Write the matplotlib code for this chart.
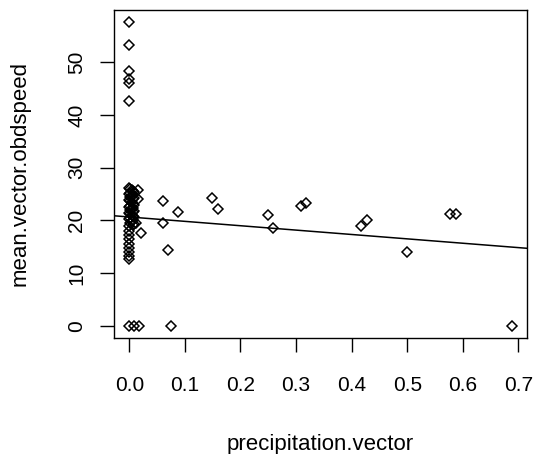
import matplotlib.pyplot as plt

plt.rcParams["font.family"] = ["Liberation Sans", "DejaVu Sans"]

# values (the x = 0 block is densely overplotted)
precipitation = [
    0.000, 0.000, 0.000, 0.000, 0.000, 0.000,
    0.000, 0.004, 0.008, 0.000, 0.004, 0.008, 0.000, 0.004, 0.008,
    0.000, 0.004, 0.008, 0.000, 0.004, 0.008, 0.000, 0.004, 0.008,
    0.002, 0.006, 0.002, 0.006, 0.002, 0.006, 0.002, 0.006, 0.002,
    0.006, 0.002, 0.006, 0.002, 0.006, 0.002, 0.006, 0.002, 0.006,
    0.000, 0.000, 0.000, 0.000, 0.000, 0.000, 0.000, 0.000, 0.000,
    0.015, 0.015, 0.012, 0.021,
    0.000, 0.009, 0.018, 0.075,
    0.060, 0.060, 0.070, 0.088, 0.148, 0.160, 0.249, 0.259,
    0.308, 0.317, 0.416, 0.427, 0.499, 0.577, 0.588, 0.688,
]
obdspeed = [
    57.6, 53.2, 48.4, 46.8, 46.1, 42.6,
    26.2, 25.8, 25.4, 25.0, 24.6, 24.2, 23.8, 23.4, 23.0,
    22.6, 22.2, 21.8, 21.4, 21.0, 20.6, 20.2, 19.8, 19.4,
    26.0, 25.6, 25.2, 24.8, 24.4, 24.0, 23.6, 23.2, 22.8,
    22.4, 22.0, 21.6, 21.2, 20.8, 20.4, 20.0, 19.6, 19.2,
    18.9, 18.0, 17.2, 16.4, 15.6, 14.8, 14.0, 13.3, 12.6,
    25.8, 24.0, 19.6, 17.7,
    0.0, 0.0, 0.0, 0.0,
    23.6, 19.6, 14.4, 21.6, 24.3, 22.2, 21.0, 18.6,
    22.8, 23.3, 18.9, 20.0, 14.1, 21.3, 21.3, 0.0,
]

# fitted line (abline of lm)
fit_intercept = 20.65
fit_slope = -8.3

x_ticks = [0.0, 0.1, 0.2, 0.3, 0.4, 0.5, 0.6, 0.7]
y_ticks = [0, 10, 20, 30, 40, 50]

fig = plt.figure(figsize=(5.34, 4.54), dpi=100)
ax = fig.add_axes([0.2135, 0.2555, 0.7735, 0.7225])

ax.plot(precipitation, obdspeed, linestyle="none", marker="D", markersize=5.2,
        markerfacecolor="none", markeredgecolor="black", markeredgewidth=1.1)
ax.axline((0, fit_intercept), slope=fit_slope, color="black", linewidth=1.1)

ax.set_xlim(-0.0275, 0.7155)
ax.set_ylim(-2.3, 59.9)
ax.set_xticks(x_ticks)
ax.set_xticklabels([f"{v:.1f}" for v in x_ticks])
ax.set_yticks(y_ticks)
ax.set_yticklabels([str(v) for v in y_ticks], rotation=90, va="center")

ax.tick_params(axis="both", direction="out", length=10, width=1,
               labelsize=15, colors="black")
ax.tick_params(axis="x", pad=17)
ax.tick_params(axis="y", pad=10)
for spine in ax.spines.values():
    spine.set_linewidth(1)

ax.set_xlabel("precipitation.vector", fontsize=16)
ax.set_ylabel("mean.vector.obdspeed", fontsize=16)
ax.xaxis.label.set_va("center")
ax.yaxis.label.set_va("center")
ax.xaxis.set_label_coords(0.5, -0.326)
ax.yaxis.set_label_coords(-0.228, 0.5)

fig.savefig("out.png", dpi=100)
